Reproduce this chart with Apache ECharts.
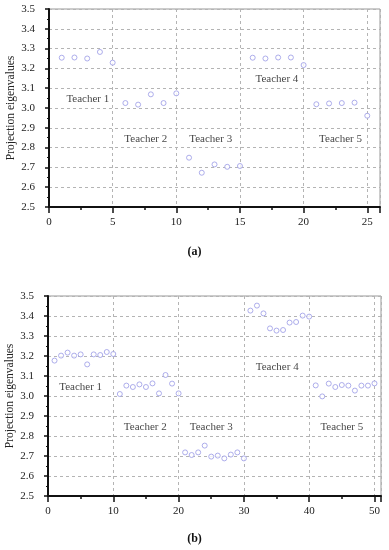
<!DOCTYPE html>
<html>
<head>
<meta charset="utf-8">
<script src="https://cdn.jsdelivr.net/npm/echarts@6/dist/echarts.min.js"></script>
<style>
html,body{margin:0;padding:0;background:#fff;}
#c{width:389px;height:550px;}
</style>
</head>
<body>
<div id="c"></div>
<script>
// ---- data ----
const xA = [1,2,3,4,5,6,7,8,9,10,11,12,13,14,15,16,17,18,19,20,21,22,23,24,25];
const yA = [3.254,3.255,3.250,3.283,3.229, 3.025,3.017,3.069,3.025,3.074,
            2.749,2.673,2.715,2.703,2.707, 3.254,3.250,3.255,3.255,3.217,
            3.019,3.023,3.025,3.027,2.961];
const xB = Array.from({length:50},(_, i)=>i+1);
const yB = [3.177,3.202,3.217,3.202,3.208,3.158,3.208,3.205,3.220,3.210,
            3.010,3.052,3.045,3.058,3.045,3.063,3.013,3.105,3.062,3.013,
            2.718,2.705,2.718,2.752,2.697,2.702,2.688,2.707,2.718,2.688,
            3.427,3.452,3.413,3.338,3.327,3.330,3.367,3.370,3.402,3.397,
            3.053,2.998,3.062,3.045,3.055,3.052,3.027,3.052,3.052,3.063];
const teacherNames = ['Teacher 1','Teacher 2','Teacher 3','Teacher 4','Teacher 5'];
const labelXA = [3.05, 7.6, 12.7, 17.9, 22.9];
const labelYA = [3.045, 2.843, 2.843, 3.146, 2.843];
const labelXB = [5.0, 14.9, 25.0, 35.1, 45.0];
const labelYB = [3.045, 2.842, 2.842, 3.145, 2.842];
const xMaxA = 26, xIntA = 5, xMaxB = 51, xIntB = 10;
const yMin = 2.5, yMax = 3.5, yInt = 0.1;
const yName = 'Projection eigenvalues';
const captions = ['(a)', '(b)'];

// ---- chart ----
const FONT = '"Liberation Serif", "DejaVu Serif", serif';
const chart = echarts.init(document.getElementById('c'), null, {renderer:'canvas'});

function xAxisCfg(gi, max, interval){
  return {
    type:'value', gridIndex:gi, min:0, max:max, interval:interval,
    axisLine:{show:true, onZero:false, lineStyle:{color:'#111', width:2}},
    axisTick:{show:true, inside:false, length:6, lineStyle:{color:'#111', width:1.5}},
    minorTick:{show:true, splitNumber:2, length:3, lineStyle:{color:'#111', width:1.5}},
    axisLabel:{color:'#222', fontFamily:FONT, fontSize:11, margin:10,
      formatter:v=> (Math.abs(v/interval - Math.round(v/interval))<1e-6 && v<=max-1) ? String(v) : ''},
    splitLine:{show:true, lineStyle:{color:'#b4b4b4', type:[3,3], width:1}}
  };
}
function yAxisCfg(gi){
  return {
    type:'value', gridIndex:gi, min:yMin, max:yMax, interval:yInt,
    name:yName, nameLocation:'middle', nameGap:32, nameMoveOverlap:false,
    nameTextStyle:{color:'#222', fontFamily:FONT, fontSize:11.5},
    axisLine:{show:true, onZero:false, lineStyle:{color:'#111', width:2}},
    axisTick:{show:true, inside:false, length:4, lineStyle:{color:'#111', width:1.5}},
    minorTick:{show:true, splitNumber:2, length:2, lineStyle:{color:'#111', width:1}},
    axisLabel:{color:'#222', fontFamily:FONT, fontSize:11, margin:14, formatter:v=>v.toFixed(1)},
    splitLine:{show:true, lineStyle:{color:'#b4b4b4', type:[3,3], width:1}}
  };
}
function pts(xs, ys){ return xs.map((x,i)=>[x, ys[i]]); }
function labelPts(xs, ys){ return xs.map((x,i)=>({value:[x, ys[i]], name:teacherNames[i]})); }

const markerStyle = {color:'#fff', borderColor:'#9a9ae6', borderWidth:1};

chart.setOption({
  animation:false,
  backgroundColor:'#fff',
  title:[
    {text:captions[0], left:'center', top:241, textStyle:{fontFamily:FONT, fontSize:12, fontWeight:'bold', color:'#111'}},
    {text:captions[1], left:'center', top:528, textStyle:{fontFamily:FONT, fontSize:12, fontWeight:'bold', color:'#111'}}
  ],
  grid:[
    {left:49, top:9, width:331, height:198, show:true, borderColor:'#999', borderWidth:1, backgroundColor:'transparent', containLabel:false, outerBoundsMode:'none'},
    {left:48, top:296, width:333, height:200, show:true, borderColor:'#999', borderWidth:1, backgroundColor:'transparent', containLabel:false, outerBoundsMode:'none'}
  ],
  xAxis:[ xAxisCfg(0, xMaxA, xIntA), xAxisCfg(1, xMaxB, xIntB) ],
  yAxis:[ yAxisCfg(0), yAxisCfg(1) ],
  series:[
    {type:'scatter', xAxisIndex:0, yAxisIndex:0, symbol:'circle', symbolSize:5, itemStyle:markerStyle, data:pts(xA,yA)},
    {type:'scatter', xAxisIndex:1, yAxisIndex:1, symbol:'circle', symbolSize:5, itemStyle:markerStyle, data:pts(xB,yB)},
    {type:'scatter', xAxisIndex:0, yAxisIndex:0, symbolSize:0, silent:true,
     label:{show:true, position:'inside', formatter:p=>p.name, fontFamily:FONT, fontSize:11, color:'#111'},
     data:labelPts(labelXA, labelYA)},
    {type:'scatter', xAxisIndex:1, yAxisIndex:1, symbolSize:0, silent:true,
     label:{show:true, position:'inside', formatter:p=>p.name, fontFamily:FONT, fontSize:11, color:'#111'},
     data:labelPts(labelXB, labelYB)}
  ]
});
</script>
</body>
</html>
